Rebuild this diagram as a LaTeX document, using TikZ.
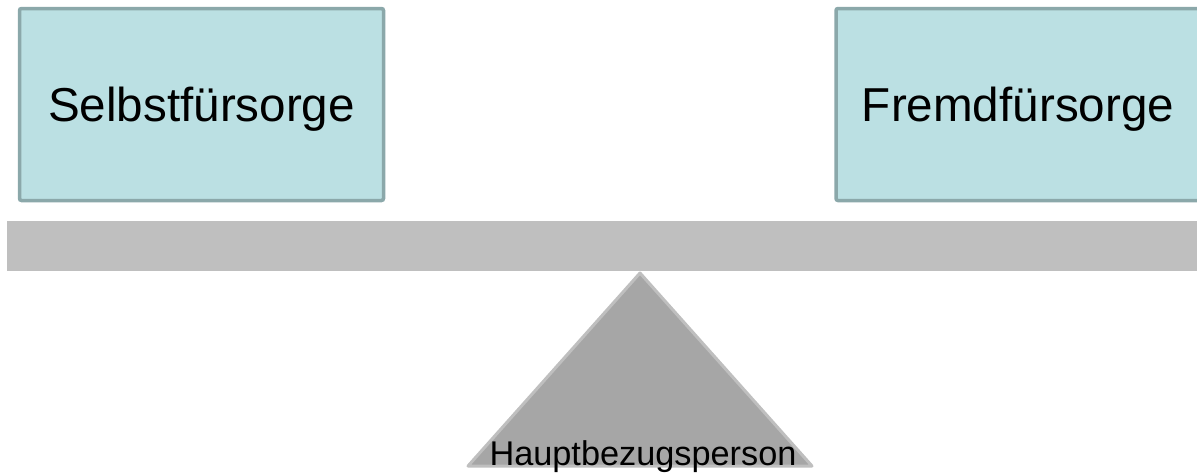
\documentclass[tikz,border=0pt]{standalone}
\usepackage{fontspec}
\setmainfont{Liberation Sans}
\definecolor{boxfill}{HTML}{BBE0E3}
\definecolor{boxline}{HTML}{8BA8AA}
\definecolor{barfill}{HTML}{BFBFBF}
\definecolor{trifill}{HTML}{A6A6A6}
\tikzset{
  carebox/.style={draw=boxline, fill=boxfill, line width=3.5pt, rounded corners=2pt,
    minimum width=364pt, minimum height=192pt, inner sep=0pt, outer sep=0pt,
    text depth=0pt, font=\fontsize{47.6}{55}\selectfont, text=black},
  beam/.style={fill=barfill, draw=none, minimum width=1210pt, minimum height=50pt, inner sep=0pt, anchor=north west},
  fulcrum/.style={fill=trifill, draw=barfill, line width=3pt, line join=round},
  baselabel/.style={font=\fontsize{34.3}{40}\selectfont, text=black, inner sep=0pt, anchor=base}
}
\begin{document}
\begin{tikzpicture}[x=1pt,y=1pt]
\useasboundingbox (0,0) rectangle (1197,-472);
\clip (0,0) rectangle (1197,-472);
\node[carebox] (self) at (201.5,-104.5) {Selbstfürsorge};
\node[carebox] (other) at (1018,-104.5) {Fremdfürsorge};
\node[beam] (bar) at (7,-221) {};
\coordinate (apex) at (640,-273);
\coordinate (bl) at (468,-466);
\coordinate (br) at (812,-466);
\draw[fulcrum] (apex) -- (br) -- (bl) -- cycle;
\node[baselabel] (hb) at (643,-465) {Hauptbezugsperson};
\end{tikzpicture}
\end{document}
